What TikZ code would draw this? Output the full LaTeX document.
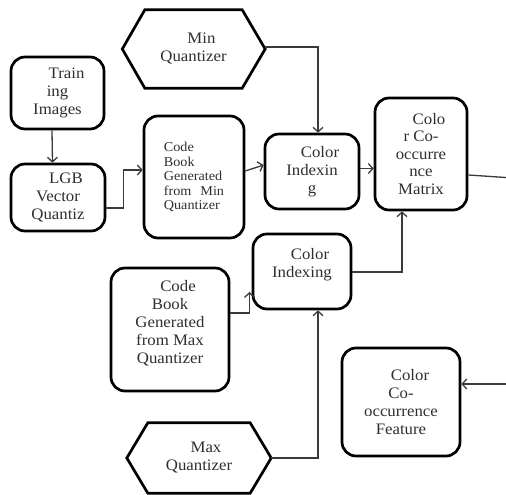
\documentclass[tikz,border=0pt]{standalone}
\usepackage{fontspec}
\setmainfont{Liberation Serif}[FakeStretch=1.05]
\usetikzlibrary{arrows.meta}
\definecolor{txt}{HTML}{2E2E2E}
\definecolor{ln}{HTML}{3A3A3A}
\begin{document}
\begin{tikzpicture}[x=1pt,y=-1pt,
  box/.style={draw=black,line width=2.7pt,rounded corners=14pt,inner sep=0pt,
    align=center,text=txt,font=\fontsize{16}{18}\selectfont},
  hextext/.style={inner sep=0pt,align=center,text=txt,font=\fontsize{16}{18}\selectfont},
  hexline/.style={draw=black,line width=2.7pt,line join=miter},
  arr/.style={draw=ln,line width=1.3pt,-{Straight Barb[length=4.5pt,width=10pt,line width=1.3pt]}},
  con/.style={draw=ln,line width=1.3pt}]
\useasboundingbox (0,0) rectangle (506,495);

% boxes
\node[box,minimum width=93pt,minimum height=72pt] (train) at (57.5,93)
  {\hspace*{18pt}Train\\ing\\Images};
\node[box,minimum width=94pt,minimum height=67pt] (lgb) at (58,197.5)
  {\hspace*{16pt}LGB\\Vector\\Quantiz};
\node[box,minimum width=100pt,minimum height=122pt,align=left,
  font=\fontsize{13.5}{14.5}\selectfont] (cbmin) at (194,177)
  {Code\\Book\\Generated\\from\hspace{9pt}Min\\Quantizer};
\node[box,minimum width=94pt,minimum height=75pt] (ci1) at (312,171.5)
  {\hspace*{16pt}Color\\Indexin\\g};
\node[box,minimum width=92pt,minimum height=112pt,
  font=\fontsize{16}{17.5}\selectfont] (matrix) at (421,154)
  {\hspace*{16pt}Colo\\r Co-\\occurre\\nce\\Matrix};
\node[box,minimum width=98pt,minimum height=75pt] (ci2) at (302,271.5)
  {\hspace*{16pt}Color\\Indexing\\\mbox{}};
\node[box,minimum width=118pt,minimum height=123pt] (cbmax) at (170,329.5)
  {\hspace*{16pt}Code\\Book\\Generated\\from Max\\Quantizer\\[-2pt]\mbox{}};
\node[box,minimum width=118pt,minimum height=108pt] (feature) at (401,402)
  {\hspace*{18pt}Color\\Co-\\occurrence\\Feature};

% hexagons
\node[hextext,minimum width=97pt,minimum height=78pt] (minq) at (193.5,49)
  {\hspace*{16pt}Min\\Quantizer};
\draw[hexline] ([xshift=-22.5pt]minq.west) -- (minq.north west) -- (minq.north east)
  -- ([xshift=23pt]minq.east) -- (minq.south east) -- (minq.south west) -- cycle;
\coordinate (minqR) at ([xshift=23pt,yshift=2pt]minq.east);

\node[hextext,minimum width=102pt,minimum height=70pt] (maxq) at (199,458)
  {\hspace*{14pt}Max\\Quantizer};
\draw[hexline] ([xshift=-21pt]maxq.west) -- (maxq.north west) -- (maxq.north east)
  -- ([xshift=21pt]maxq.east) -- (maxq.south east) -- (maxq.south west) -- cycle;
\coordinate (maxqR) at ([xshift=21pt]maxq.east);

% free ends
\coordinate (out1) at (506,177.5);
\coordinate (in2) at (506,384);
\coordinate (ci2in) at (249.5,292);

% connectors
\draw[arr] ([xshift=-5.5pt]train.south) -- ([xshift=-5.5pt]lgb.north);
\draw[arr] ([yshift=-10.5pt]lgb.east) -- ++(17,0) |- ([yshift=7pt]cbmin.west);
\draw[arr] ([yshift=6pt]cbmin.east) -- ([yshift=6.5pt]ci1.west);
\draw[arr] (minqR) -| ([xshift=6pt]ci1.north);
\coordinate (p5) at ([yshift=3pt]ci1.east);
\draw[arr] (p5) -- (p5 -| matrix.west);
\draw[con] ([yshift=-21pt]matrix.east) -- (out1);
\draw[arr] ([yshift=-0.5pt]ci2.east) -| ([xshift=-19pt]matrix.south);
\draw[arr] ([yshift=16.5pt]cbmax.east) -| (ci2in);
\draw[arr] (maxqR) -| ([xshift=16pt]ci2.south);
\draw[arr] (in2) -- (in2 -| feature.east);
\end{tikzpicture}
\end{document}
